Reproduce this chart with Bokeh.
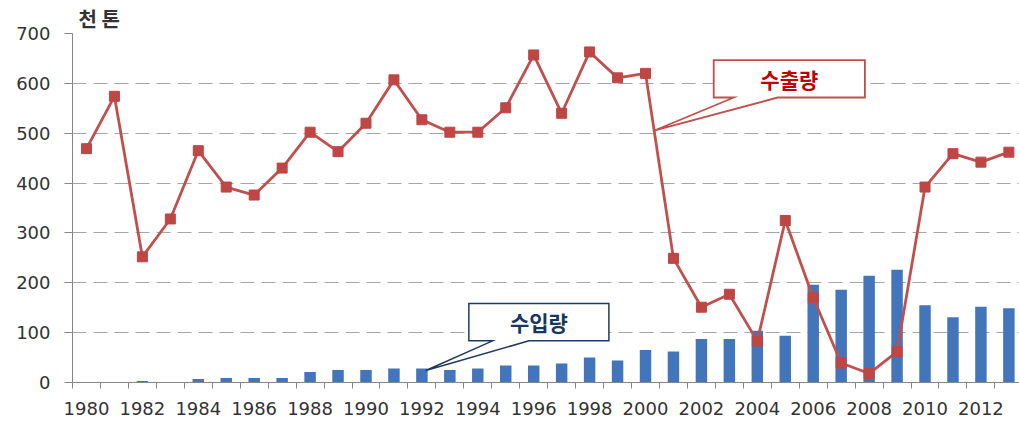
from bokeh.plotting import figure
from bokeh.models import FixedTicker, Range1d, Label
from bokeh.embed import file_html
from bokeh.resources import INLINE

# ---- data ----
years = list(range(1980, 2014))
exports = [469, 574, 252, 328, 465, 392, 376, 430, 502, 463, 520, 607, 527, 502, 502,
           551, 657, 540, 663, 611, 620, 249, 151, 177, 83, 325, 170, 39, 18, 62,
           392, 459, 442, 462]
imports = [0, 0, 3, 0, 7, 9, 9, 9, 21, 25, 25, 28, 28, 25, 28,
           34, 34, 38, 50, 44, 65, 62, 87, 87, 104, 94, 196, 186, 214, 226,
           155, 131, 152, 149]
y_ticks = [0, 100, 200, 300, 400, 500, 600, 700]
x_label_years = list(range(1980, 2013, 2))
unit_title = "천 톤"
export_name = "수출량"
import_name = "수입량"

RED = "#C0504D"
BLUE = "#4275BA"
NAVY = "#1F3A5F"
AXIS = "#868686"
TXT = "#333333"

p = figure(width=1019, height=423, output_backend="svg", toolbar_location=None,
           x_range=Range1d(1979.5, 2013.38), y_range=Range1d(0, 700),
           min_border_left=72, min_border_right=0, min_border_top=33,
           min_border_bottom=41)
p.outline_line_color = None
p.background_fill_color = "white"
p.border_fill_color = "white"

# unit title
p.title.text = unit_title
p.title.align = "left"
p.title.offset = 6
p.title.standoff = 1
p.title.text_font = "Noto Sans CJK KR"
p.title.text_font_style = "bold"
p.title.text_font_size = "20px"
p.title.text_color = TXT

# axes
p.xgrid.grid_line_color = None
p.ygrid.grid_line_color = "#A6A6A6"
p.ygrid.grid_line_dash = "14 7"
p.ygrid.grid_line_width = 1
p.yaxis.ticker = FixedTicker(ticks=y_ticks)
p.yaxis.axis_line_color = AXIS
p.yaxis.major_tick_line_color = AXIS
p.yaxis.major_tick_out = 8
p.yaxis.major_tick_in = 0
p.yaxis.minor_tick_line_color = None
p.yaxis.major_label_standoff = 14
p.yaxis.major_label_text_font = "DejaVu Sans"
p.yaxis.major_label_text_font_size = "18px"
p.yaxis.major_label_text_color = TXT

boundaries = [y - 0.5 for y in years] + [years[-1] + 0.5]
p.xaxis.ticker = FixedTicker(ticks=x_label_years, minor_ticks=boundaries)
p.xaxis.axis_line_color = AXIS
p.xaxis.minor_tick_line_color = AXIS
p.xaxis.minor_tick_out = 6
p.xaxis.minor_tick_in = 0
p.xaxis.major_tick_line_color = None
p.xaxis.major_tick_out = 6
p.xaxis.major_tick_in = 0
p.xaxis.major_label_standoff = 13
p.xaxis.major_label_text_font = "DejaVu Sans"
p.xaxis.major_label_text_font_size = "18px"
p.xaxis.major_label_text_color = TXT

# bars and line
p.vbar(x=years, top=imports, width=0.41, fill_color=BLUE, line_color=None)
p.line(years, exports, line_color=RED, line_width=2.8)
p.scatter(years, exports, marker="square", size=10, fill_color="#BE4644",
          line_color="#BE4644")

# callouts (annotation shapes)
ex_box = dict(l=2002.44, r=2007.85, t=646.6, b=571.6, b1=2003.16, b2=2004.73, tx=2000.3, ty=505)
im_box = dict(l=1993.68, r=1998.69, t=158.4, b=83.6, b1=1994.53, b2=1995.83, tx=1992.14, ty=24)

def callout(c, color, width):
    xs = [c["l"], c["r"], c["r"], c["b2"], c["tx"], c["b1"], c["l"]]
    ys = [c["t"], c["t"], c["b"], c["b"], c["ty"], c["b"], c["b"]]
    p.patch(xs, ys, fill_color="white", line_color=color, line_width=width,
            line_join="miter")

callout(ex_box, RED, 1.8)
callout(im_box, NAVY, 1.5)

p.add_layout(Label(x=(ex_box["l"] + ex_box["r"]) / 2, y=609, text=export_name,
                   text_align="center", text_baseline="middle",
                   text_font="Noto Sans CJK KR", text_font_style="bold",
                   text_font_size="21px", text_color="#C00000"))
p.add_layout(Label(x=(im_box["l"] + im_box["r"]) / 2, y=121.5, text=import_name,
                   text_align="center", text_baseline="middle",
                   text_font="Noto Sans CJK KR", text_font_style="bold",
                   text_font_size="21px", text_color="#17375E"))

open("out.html", "w").write(file_html(p, INLINE))
